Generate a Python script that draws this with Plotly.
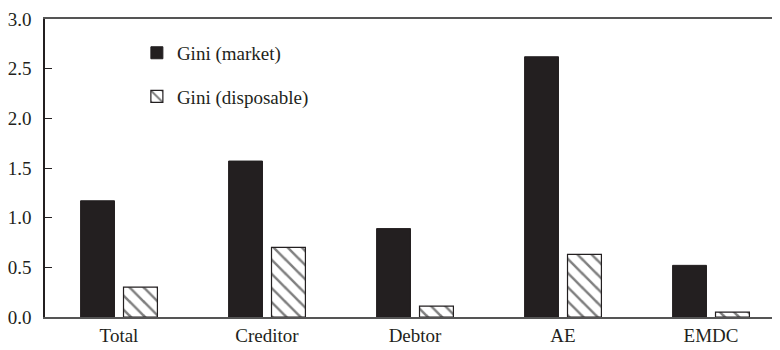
import plotly.graph_objects as go

categories = ["Total", "Creditor", "Debtor", "AE", "EMDC"]
gini_market = [1.17, 1.57, 0.89, 2.62, 0.52]
gini_disposable = [0.30, 0.70, 0.11, 0.63, 0.05]
y_ticks = [0.0, 0.5, 1.0, 1.5, 2.0, 2.5, 3.0]
y_tick_labels = ["0.0", "0.5", "1.0", "1.5", "2.0", "2.5", "3.0"]

FONT = "Liberation Serif"
DARK = "#231f20"

fig = go.Figure()
fig.add_trace(go.Bar(
    x=categories, y=gini_market, name="Gini (market)",
    legendgroup="a",
    marker=dict(color=DARK, line=dict(color=DARK, width=1)),
))
fig.add_trace(go.Bar(
    x=categories, y=gini_disposable, name="Gini (disposable)",
    legendgroup="b",
    marker=dict(color="white", line=dict(color=DARK, width=1.2),
                pattern=dict(shape="\\", fgcolor="#000000", bgcolor="white",
                             size=10, solidity=0.25)),
))

fig.update_layout(
    width=772, height=342,
    margin=dict(l=37, r=0, t=11, b=33),
    paper_bgcolor="white", plot_bgcolor="white",
    barmode="group", bargap=0.42, bargroupgap=0.21,
    font=dict(family=FONT, size=19, color=DARK),
    showlegend=True,
    legend=dict(
        x=0.125, y=0.95, xanchor="left", yanchor="top",
        bgcolor="rgba(0,0,0,0)", tracegroupgap=16,
        font=dict(family=FONT, size=19, color=DARK),
    ),
    xaxis=dict(
        range=[-0.5, -0.5 + 735 / 148],
        showline=True, linecolor="#555", linewidth=1.5, mirror=True,
        ticks="", showgrid=False, zeroline=False,
        tickfont=dict(family=FONT, size=19, color=DARK),
    ),
    yaxis=dict(
        range=[0, 3], tickvals=y_ticks, ticktext=y_tick_labels,
        showline=True, linecolor=DARK, linewidth=1.5,
        ticks="inside", ticklen=7, tickcolor=DARK, tickwidth=1,
        showgrid=False, zeroline=False, ticklabelstandoff=8,
        tickfont=dict(family=FONT, size=19, color=DARK),
    ),
)

fig.write_html("out.html")
